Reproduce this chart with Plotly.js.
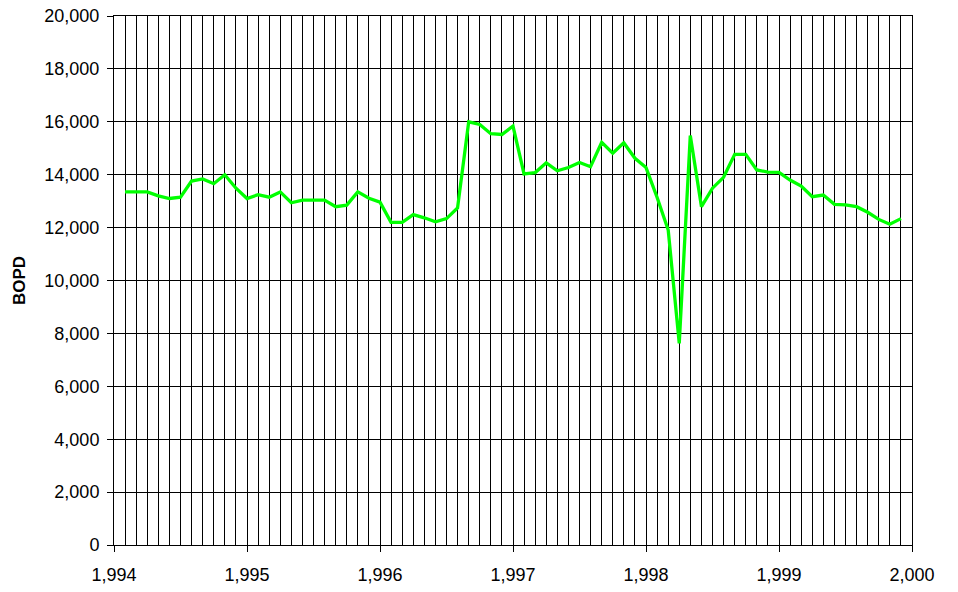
<!DOCTYPE html>
<html>
<head>
<meta charset="utf-8">
<script src="https://cdn.plot.ly/plotly-3.0.1.min.js"></script>
<style>html,body{margin:0;padding:0;background:#fff;}#chart{width:958px;height:592px;}</style>
</head>
<body>
<div id="chart"></div>
<script>
// Decimal year of each monthly reading (Feb 1994 .. Dec 1999)
var years = [
  1994.083,1994.167,1994.25,1994.333,1994.417,1994.5,1994.583,1994.667,1994.75,1994.833,1994.917,1995,
  1995.083,1995.167,1995.25,1995.333,1995.417,1995.5,1995.583,1995.667,1995.75,1995.833,1995.917,1996,
  1996.083,1996.167,1996.25,1996.333,1996.417,1996.5,1996.583,1996.667,1996.75,1996.833,1996.917,1997,
  1997.083,1997.167,1997.25,1997.333,1997.417,1997.5,1997.583,1997.667,1997.75,1997.833,1997.917,1998,
  1998.083,1998.167,1998.25,1998.333,1998.417,1998.5,1998.583,1998.667,1998.75,1998.833,1998.917,1999,
  1999.083,1999.167,1999.25,1999.333,1999.417,1999.5,1999.583,1999.667,1999.75,1999.833,1999.917
];
// Oil rate, barrels of oil per day
var bopd = [
  13350,13350,13350,13200,13100,13150,13760,13840,13660,14000,13490,13100,
  13245,13150,13350,12940,13040,13040,13040,12790,12850,13350,13110,12960,
  12200,12200,12490,12370,12220,12340,12740,16000,15900,15550,15520,15840,
  14030,14080,14450,14150,14270,14460,14300,15220,14810,15210,14620,14270,
  13150,11910,7620,15480,12790,13490,13900,14770,14770,14180,14100,14090,
  13800,13570,13170,13230,12880,12860,12790,12580,12310,12130,12340
];
var yTitle = "BOPD";

var trace = {
  x: years, y: bopd, type: "scatter", mode: "lines",
  line: {color: "#00FF00", width: 3.3},
  hoverinfo: "x+y"
};

var font = {family: "Liberation Sans, Arial, sans-serif", size: 18, color: "#000"};

var layout = {
  width: 958, height: 592,
  margin: {l: 114, r: 46, t: 16, b: 47},
  paper_bgcolor: "#fff", plot_bgcolor: "#fff",
  font: font,
  showlegend: false,
  xaxis: {
    range: [1994, 2000], dtick: 1, tick0: 1994,
    tickformat: ",", ticks: "outside", ticklen: 6, tickcolor: "#000", tickwidth: 1,
    showgrid: true, gridcolor: "#000", gridwidth: 1,
    minor: {dtick: 1/12, tick0: 1994, showgrid: true, gridcolor: "#000", gridwidth: 1, ticks: ""},
    showline: true, linecolor: "#000", linewidth: 1, mirror: true,
    zeroline: false, ticklabelstandoff: 7,
    tickfont: font
  },
  yaxis: {
    range: [0, 20000], dtick: 2000, tick0: 0,
    tickformat: ",", ticks: "outside", ticklen: 6, tickcolor: "#000", tickwidth: 1,
    showgrid: true, gridcolor: "#000", gridwidth: 1,
    showline: true, linecolor: "#000", linewidth: 1, mirror: true,
    zeroline: false, ticklabelstandoff: 4,
    tickfont: font,
    title: {text: "<b>" + yTitle + "</b>", font: {family: "Liberation Sans, Arial, sans-serif", size: 17, color: "#000"}, standoff: 14}
  }
};

Plotly.newPlot("chart", [trace], layout, {staticPlot: true, displayModeBar: false});
</script>
</body>
</html>
